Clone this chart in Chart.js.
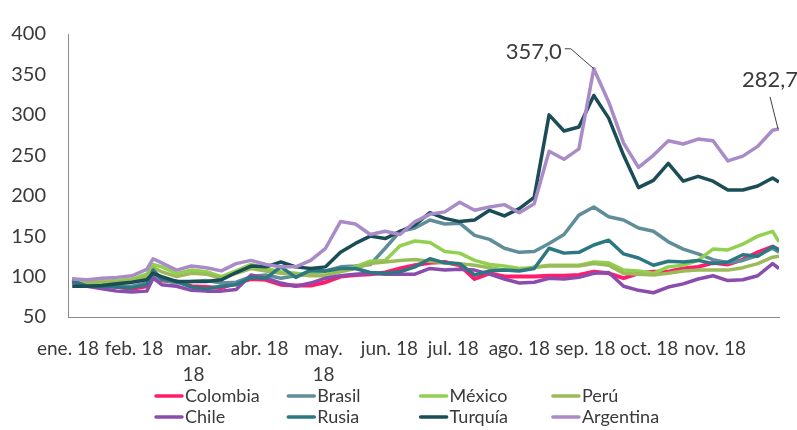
<!DOCTYPE html>
<html>
<head>
<meta charset="utf-8">
<script src="https://cdn.jsdelivr.net/npm/chart.js@4.4.1/dist/chart.umd.min.js"></script>
<style>
  html, body { margin: 0; padding: 0; background: #fff; }
  #wrap { width: 797px; height: 430px; }
</style>
</head>
<body>
<div id="wrap"><canvas id="chSpread" width="797" height="430"></canvas></div>
<script>
// day of year 2018 (0 = 1 Jan)
var days = [2,9,16,23,30,37,40,44,51,58,65,72,79,86,93,100,107,114,121,128,135,142,149,156,163,170,177,184,191,198,205,212,219,226,233,240,247,254,261,268,275,282,289,296,303,310,317,324,331,334];

var colombia  = [97,92,89,87,85,88,100,95,94,88,87,86,92,97,96,90,89,89,93,100,102,103,105,110,114,117,118,114,97,104,100,100,100,101,101,102,106,104,98,104,106,106,110,112,117,115,121,130,137,133];
var brasil    = [92,90,89,88,88,92,100,96,92,94,95,92,93,100,102,98,101,104,107,112,113,115,135,156,160,170,165,166,151,146,135,130,131,141,152,176,186,174,170,160,156,143,134,128,121,117,120,126,135,130];
var mexico    = [93,93,94,95,97,103,115,112,104,108,106,100,107,115,110,106,104,102,102,108,112,119,120,138,144,142,131,129,120,115,113,110,111,114,114,114,118,117,108,107,104,112,114,120,134,133,140,150,156,143];
var peru      = [91,92,93,93,95,100,111,106,100,104,103,98,104,110,107,104,103,101,101,106,110,116,118,120,121,119,117,116,114,111,108,108,112,113,113,113,116,114,104,103,102,104,107,108,108,108,111,116,124,125];
var chile     = [93,88,85,82,81,82,98,90,88,83,82,82,84,102,98,92,88,92,98,101,103,104,103,103,103,110,108,109,108,103,97,92,93,98,97,99,104,105,88,83,80,87,91,97,101,95,96,101,116,110];
var rusia     = [95,88,88,87,86,90,108,97,94,87,85,88,90,99,98,112,99,108,107,110,110,105,104,106,112,122,117,116,102,107,108,107,110,135,129,130,139,145,128,123,114,119,118,120,116,118,127,125,137,133];
var turquia   = [88,88,89,91,93,96,104,100,94,94,94,96,105,113,112,118,112,110,112,130,141,150,147,156,164,179,172,168,170,182,175,184,198,300,280,285,324,296,250,210,219,240,218,224,218,207,207,212,222,217];
var argentina = [97,96,98,99,101,109,122,117,108,113,111,107,116,120,115,112,112,120,135,168,165,152,156,152,168,177,180,192,182,186,189,179,190,255,245,258,357,316,265,235,250,268,264,270,268,243,249,261,281,282.7];

var names = ['Colombia','Brasil','México','Perú','Chile','Rusia','Turquía','Argentina'];
var monthStarts = [0,31,59,90,120,151,181,212,243,273,304];
var monthLabels = ['ene. 18','feb. 18',['mar.','18'],'abr. 18',['may.','18'],'jun. 18','jul. 18','ago. 18','sep. 18','oct. 18','nov. 18'];
var yTicks = [50,100,150,200,250,300,350,400];

// chart colors
var colors = ['#FF1C6B','#5F8E99','#92D050','#9BBB59','#8B4DAD','#2B7782','#1B4D57','#A98BC8'];
var textColor = '#3a3a3a';
var axisColor = '#8a8a8a';
var fontFam = 'Lato, "Open Sans", sans-serif';

var series = [colombia, brasil, mexico, peru, chile, rusia, turquia, argentina];

var datasets = series.map(function(s, i) {
  return {
    label: names[i],
    data: s.map(function(v, j) { return {x: days[j], y: v}; }),
    borderColor: colors[i],
    backgroundColor: colors[i],
    borderWidth: i === 0 ? 4 : 3.5,
    borderJoinStyle: 'round',
    pointRadius: 0,
    tension: 0,
    order: series.length - i
  };
});

// legend in a 4 x 2 grid under the axis
var gridLegend = {
  id: 'gridLegend',
  afterDraw: function(chart) {
    var ctx = chart.ctx;
    ctx.save();
    ctx.font = '18px ' + fontFam;
    ctx.textBaseline = 'middle';
    chart.data.datasets.forEach(function(ds, i) {
      var x = 155 + (i % 4) * 132.3;
      var y = 396 + Math.floor(i / 4) * 21;
      ctx.strokeStyle = ds.borderColor;
      ctx.lineWidth = 3.5;
      ctx.lineCap = 'round';
      ctx.beginPath();
      ctx.moveTo(x + 1, y);
      ctx.lineTo(x + 27, y);
      ctx.stroke();
      ctx.fillStyle = textColor;
      ctx.fillText(ds.label, x + 30, y);
    });
    ctx.restore();
  }
};

// value call-outs on Argentina: peak and last value
var callouts = {
  id: 'callouts',
  afterDatasetsDraw: function(chart) {
    var ctx = chart.ctx, xs = chart.scales.x, ys = chart.scales.y;
    var fmt = function(v) { return v.toFixed(1).replace('.', ','); };
    var iMax = argentina.indexOf(Math.max.apply(null, argentina));
    var iLast = argentina.length - 1;
    ctx.save();
    ctx.strokeStyle = '#404040';
    ctx.lineWidth = 1;
    ctx.fillStyle = textColor;
    ctx.font = '22px ' + fontFam;
    ctx.textBaseline = 'middle';

    var px = xs.getPixelForValue(days[iMax]), py = ys.getPixelForValue(argentina[iMax]);
    ctx.beginPath();
    ctx.moveTo(px, py);
    ctx.lineTo(px - 23, py - 20);
    ctx.lineTo(px - 29, py - 20);
    ctx.stroke();
    ctx.textAlign = 'right';
    ctx.fillText(fmt(argentina[iMax]), px - 32, py - 17);

    px = xs.getPixelForValue(days[iLast]); py = ys.getPixelForValue(argentina[iLast]);
    ctx.beginPath();
    ctx.moveTo(px - 1, py);
    ctx.lineTo(px - 9, py - 32);
    ctx.stroke();
    ctx.textAlign = 'center';
    ctx.fillText(fmt(argentina[iLast]), px - 9, py - 49);
    ctx.restore();
  }
};

function draw() {
  new Chart(document.getElementById('chSpread'), {
    type: 'line',
    data: { datasets: datasets },
    options: {
      responsive: false,
      animation: false,
      devicePixelRatio: 1,
      layout: { padding: { top: 17, right: 18, bottom: 0, left: 0 } },
      plugins: { legend: { display: false }, tooltip: { enabled: false } },
      scales: {
        x: {
          type: 'linear',
          min: 0,
          max: 334,
          afterBuildTicks: function(scale) {
            scale.ticks = monthStarts.map(function(v) { return {value: v}; });
          },
          afterFit: function(scale) { scale.height = 113; },
          grid: { display: false, drawTicks: false },
          border: { display: true, color: axisColor, width: 1 },
          ticks: {
            autoSkip: false,
            maxRotation: 0,
            minRotation: 0,
            padding: 19,
            color: textColor,
            font: { family: fontFam, size: 19, lineHeight: 1.37 },
            callback: function(v, i) { return monthLabels[i]; }
          }
        },
        y: {
          min: 50,
          max: 400,
          afterBuildTicks: function(scale) {
            scale.ticks = yTicks.map(function(v) { return {value: v}; });
          },
          afterFit: function(scale) { scale.width = 68; },
          grid: { display: false, drawTicks: false },
          border: { display: true, color: axisColor, width: 1 },
          ticks: {
            padding: 22,
            color: textColor,
            font: { family: fontFam, size: 20 }
          }
        }
      }
    },
    plugins: [callouts, gridLegend]
  });
}

if (document.fonts && document.fonts.load) {
  Promise.all([document.fonts.load('20px Lato'), document.fonts.load('18px Lato')]).then(draw, draw);
} else {
  draw();
}
</script>
</body>
</html>
